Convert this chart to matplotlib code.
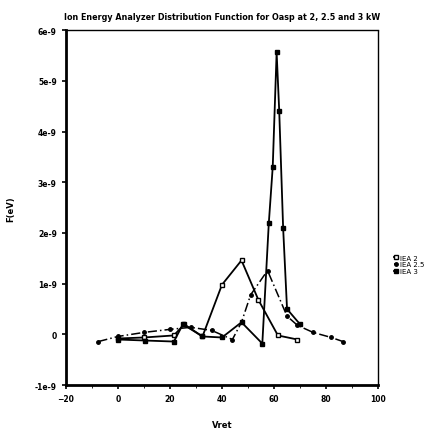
import matplotlib
matplotlib.use('Agg')
import matplotlib.pyplot as plt

# Ion energy analyzer data (values in units of 1e-9)
x_2kw = [0, 10, 21.5, 25.5, 32.5, 40, 47.5, 54, 61.5, 69]
y_2kw = [-0.08, -0.06, -0.02, 0.2, -0.04, 0.98, 1.46, 0.68, -0.02, -0.1]

x_25kw = [-7.5, 0, 10, 20, 28, 36, 44, 47.5, 51, 57.5, 65, 69, 75, 82, 86.5]
y_25kw = [-0.14, -0.04, 0.04, 0.1, 0.14, 0.08, -0.1, 0.24, 0.78, 1.26, 0.36, 0.18, 0.04, -0.06, -0.14]

x_3kw = [0, 10.5, 21.5, 25, 32.5, 40, 47.5, 55.5, 58, 59.5, 61, 62, 63.5, 65, 70]
y_3kw = [-0.1, -0.12, -0.14, 0.2, -0.04, -0.06, 0.24, -0.18, 2.2, 3.3, 5.56, 4.4, 2.1, 0.5, 0.2]

labels = ['IEA 2', 'IEA 2.5', 'IEA 3']
yticks = [-1, 0, 1, 2, 3, 4, 5, 6]
ytick_labels = ['-1e-9', '0', '1e-9', '2e-9', '3e-9', '4e-9', '5e-9', '6e-9']
xticks = [-20, 0, 20, 40, 60, 80, 100]

fig = plt.figure(figsize=(4.48, 4.31), dpi=100)
ax = fig.add_axes([0.147, 0.104, 0.697, 0.824])

ax.plot(x_2kw, y_2kw, color='black', lw=1.3, marker='s', ms=3,
        mfc='white', mec='black', label=labels[0])
ax.plot(x_25kw, y_25kw, color='black', lw=1.1, ls=(0, (6, 2, 1, 2)),
        marker='o', ms=2.5, label=labels[1])
ax.plot(x_3kw, y_3kw, color='black', lw=1.3, marker='s', ms=2.5,
        label=labels[2])

ax.set_xlim(-20, 100)
ax.set_ylim(-1, 6)
ax.set_xticks(xticks)
ax.set_xticks(range(-20, 101, 10), minor=True)
ax.set_yticks(yticks)
ax.set_yticklabels(ytick_labels)
ax.tick_params(labelsize=5.5, width=1.2, length=3)
for lab in ax.get_xticklabels() + ax.get_yticklabels():
    lab.set_fontweight('bold')

ax.spines['left'].set_linewidth(2)
ax.spines['bottom'].set_linewidth(2)
for s in ['top', 'right']:
    ax.spines[s].set_linewidth(1)
    ax.spines[s].set_linestyle((0, (1, 1)))

ax.set_title('Ion Energy Analyzer Distribution Function for Oasp at 2, 2.5 and 3 kW',
             fontsize=5.8, fontweight='bold', pad=8)
ax.set_xlabel('Vret', fontsize=6, fontweight='bold', labelpad=12)
fig.text(0.025, 0.515, 'F(eV)', fontsize=6, fontweight='bold',
         rotation=90, ha='center', va='center')

ax.legend(loc='center left', bbox_to_anchor=(1.04, 0.34), frameon=False,
          fontsize=5, handlelength=0.6, handletextpad=0.3, labelspacing=0.1,
          borderpad=0)

plt.savefig('out.png', dpi=100)
plt.close()
